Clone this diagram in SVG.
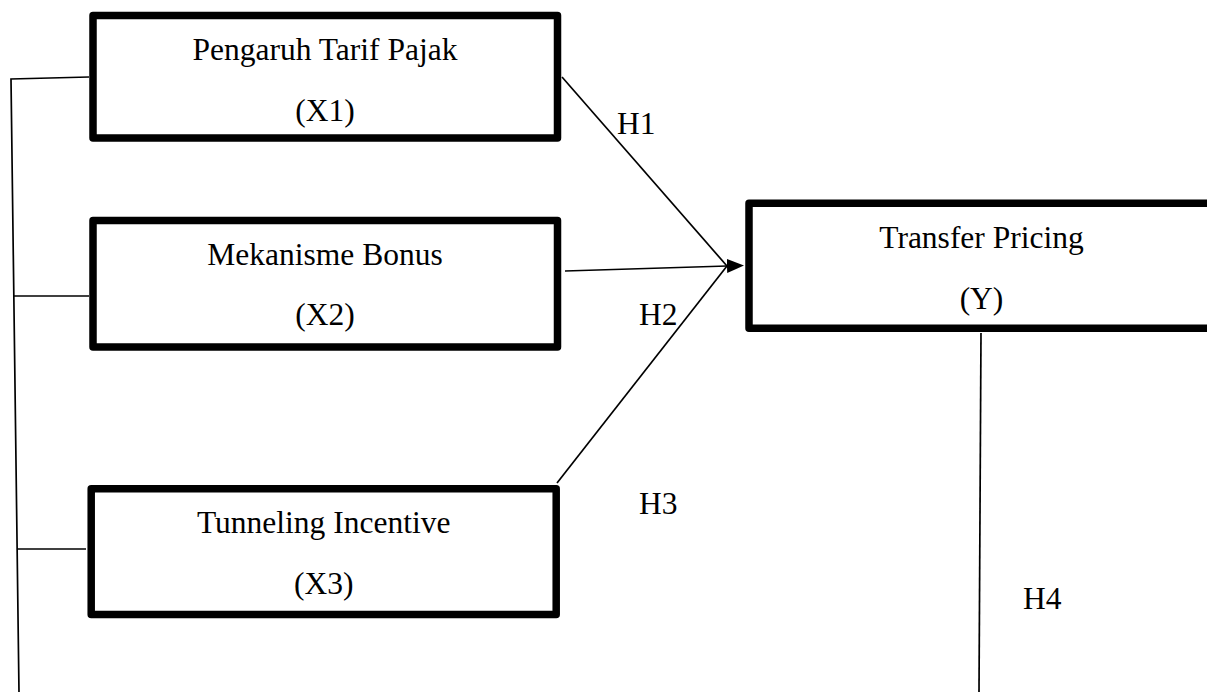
<svg xmlns="http://www.w3.org/2000/svg" width="1207" height="692" viewBox="0 0 1207 692">
<style>
.box{fill:#fff;stroke:#000;stroke-width:7.5;stroke-linejoin:round}
.t{font-family:"Liberation Serif","Times New Roman",serif;font-size:31.5px;fill:#000}
.c{text-anchor:middle}
.ln{stroke:#000;stroke-width:1.7;fill:none}
</style>
<defs>
<marker id="arr" markerUnits="userSpaceOnUse" markerWidth="18" markerHeight="15" refX="0" refY="7" orient="auto">
<path d="M0,0 L17,7 L0,14 z" fill="#000"/>
</marker>
</defs>
<rect width="1207" height="692" fill="#fff"/>
<g id="connectors">
<polyline class="ln" points="89,77 11,79 19,692"/>
<line class="ln" x1="13" y1="296" x2="89" y2="296"/>
<line class="ln" x1="17" y1="549" x2="86" y2="549"/>
<line class="ln" x1="562" y1="77" x2="727" y2="266"/>
<line class="ln" x1="565" y1="271" x2="727" y2="266" marker-end="url(#arr)"/>
<line class="ln" x1="557" y1="483" x2="727" y2="266"/>
<line class="ln" x1="981" y1="333" x2="979" y2="692"/>
<text class="t" x="617" y="134">H1</text>
<text class="t" x="639" y="325">H2</text>
<text class="t" x="639" y="514">H3</text>
<text class="t" x="1023" y="609">H4</text>
</g>
<g id="x1">
<rect class="box" x="93" y="15.5" width="464.5" height="122.5"/>
<text class="t c" x="325" y="60">Pengaruh Tarif Pajak</text>
<text class="t c" x="325" y="121">(X1)</text>
</g>
<g id="x2">
<rect class="box" x="93" y="220.5" width="464.5" height="126.5"/>
<text class="t c" x="325" y="265">Mekanisme Bonus</text>
<text class="t c" x="325" y="325">(X2)</text>
</g>
<g id="x3">
<rect class="box" x="91.2" y="488.8" width="465" height="125.7"/>
<text class="t c" x="323.7" y="533">Tunneling Incentive</text>
<text class="t c" x="323.7" y="594">(X3)</text>
</g>
<g id="y">
<rect class="box" x="749" y="203.2" width="480" height="125"/>
<text class="t c" x="981.5" y="248">Transfer Pricing</text>
<text class="t c" x="981.5" y="309">(Y)</text>
</g>
</svg>
